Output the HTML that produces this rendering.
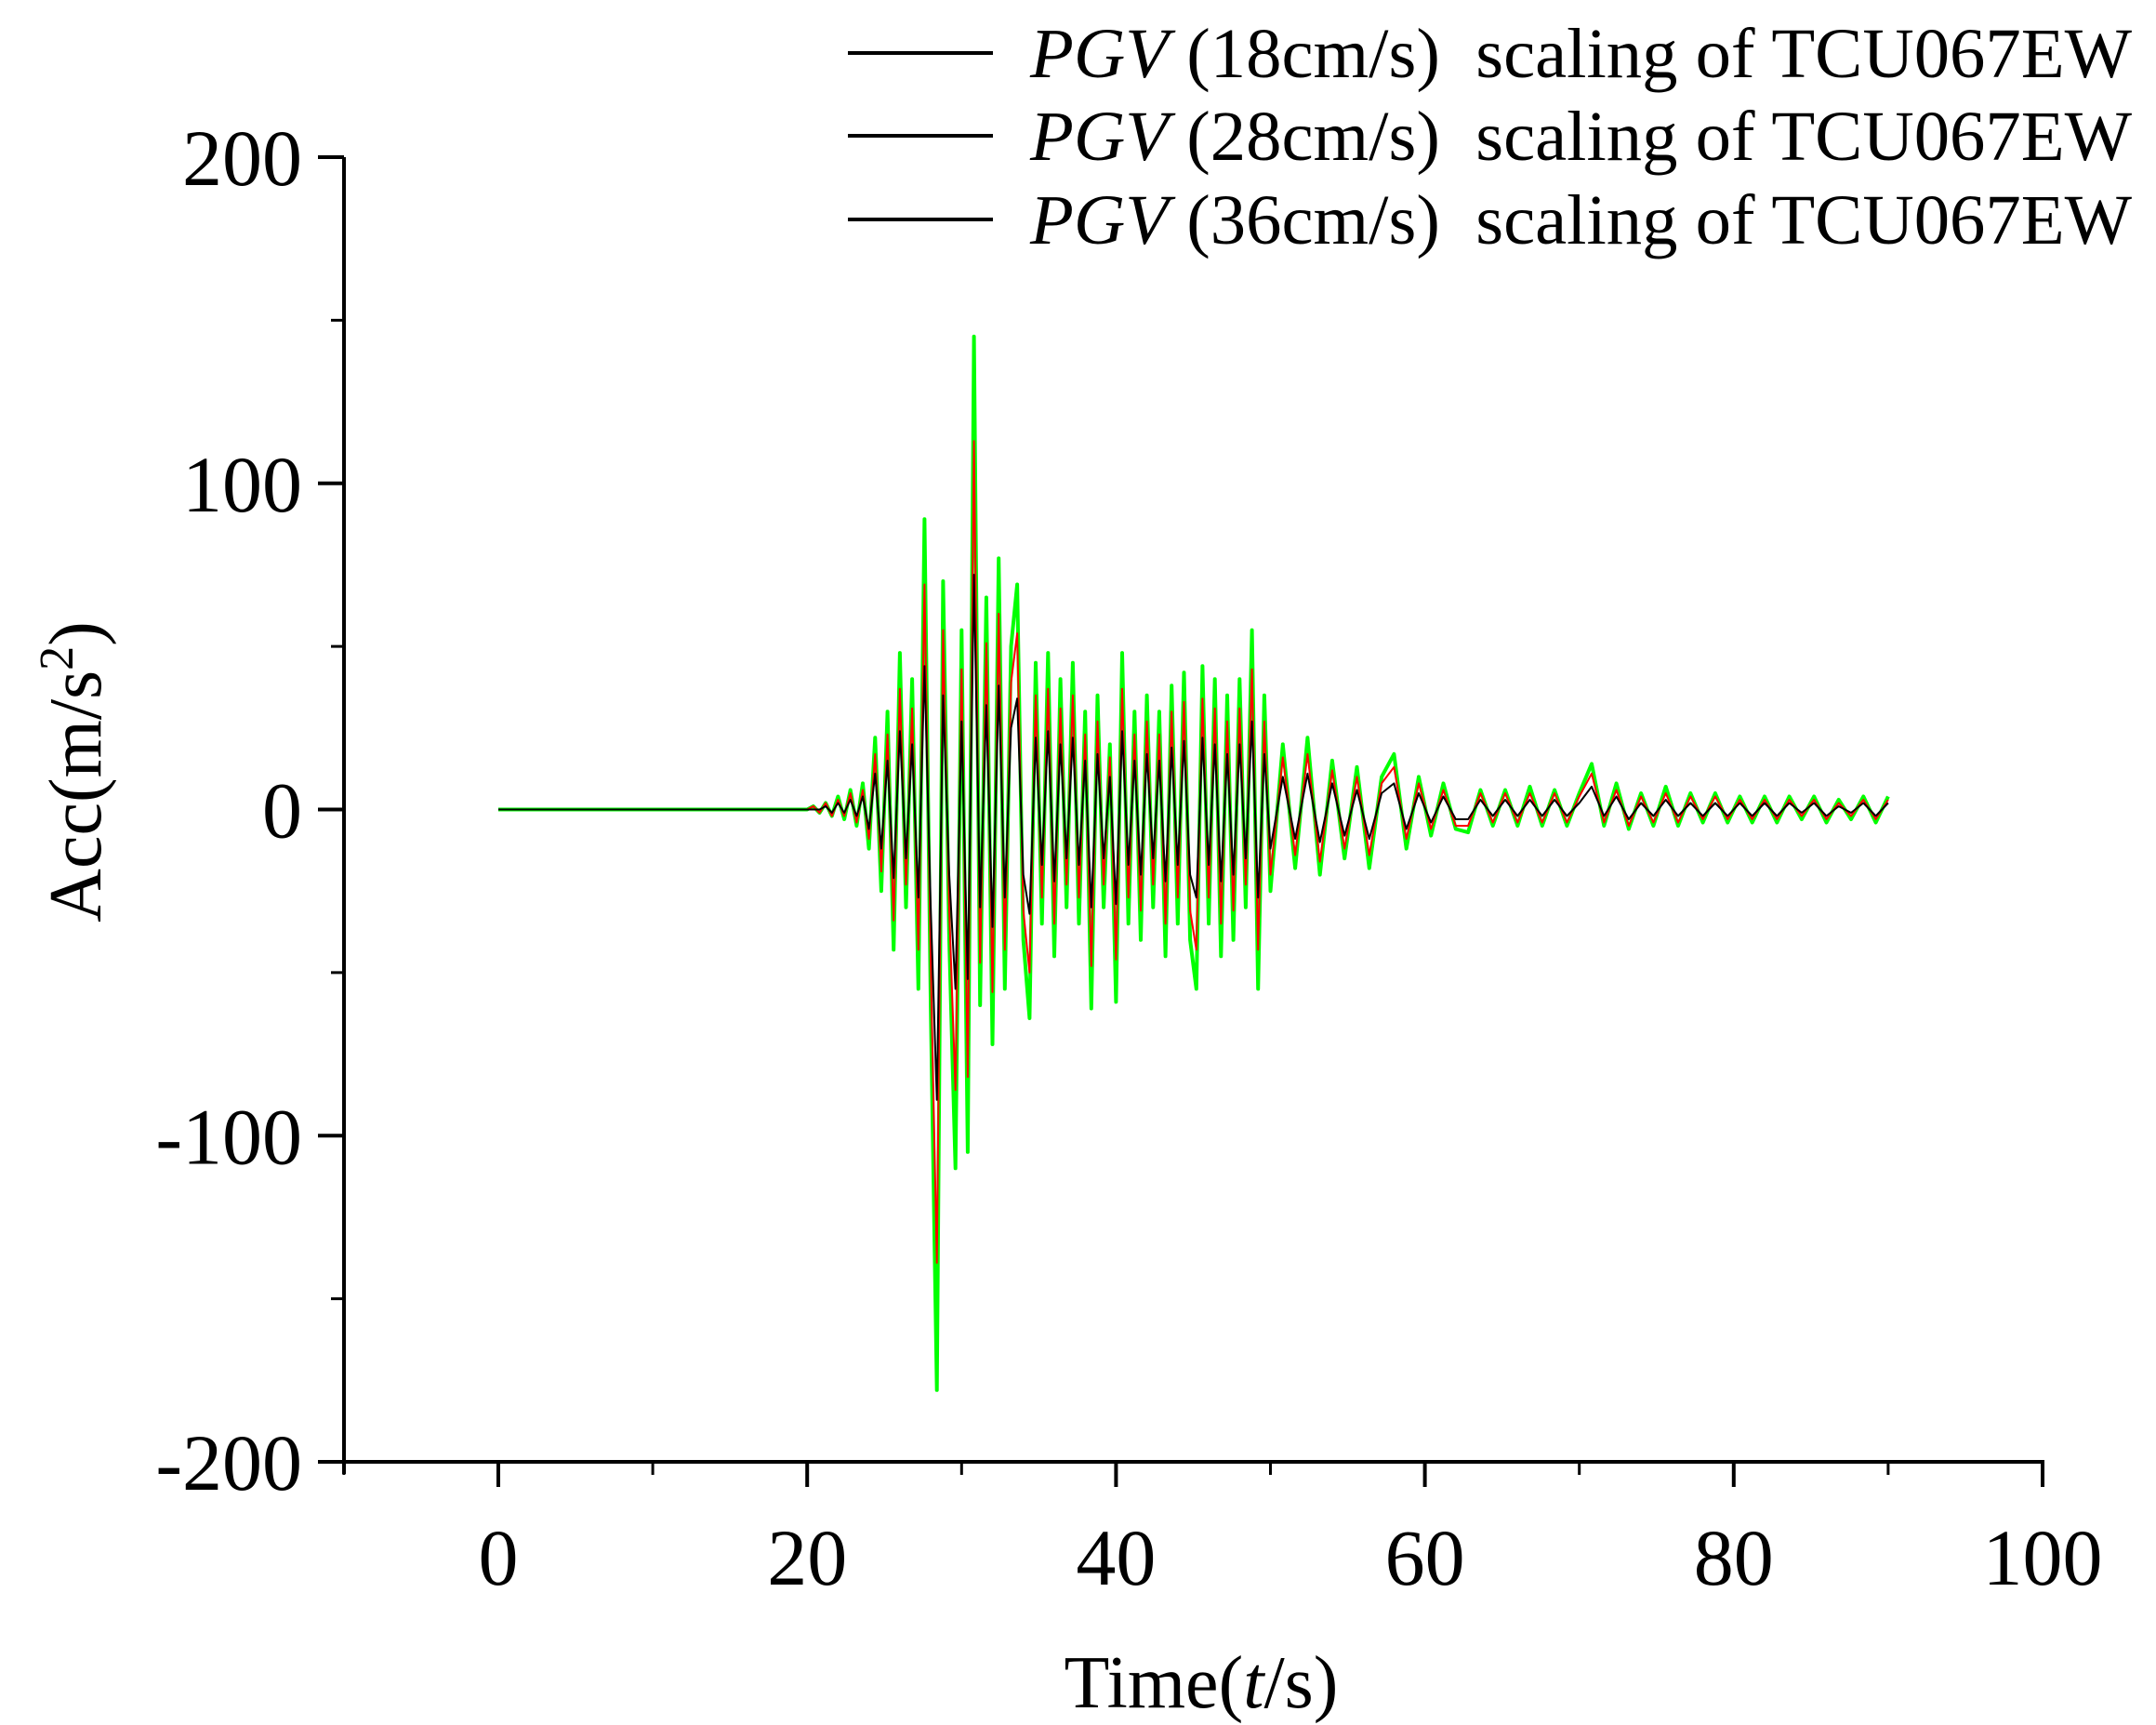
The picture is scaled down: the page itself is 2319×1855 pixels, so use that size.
<!DOCTYPE html>
<html><head><meta charset="utf-8"><style>
html,body{margin:0;padding:0;background:#fff}
svg{display:block}
text{font-family:"Liberation Serif",serif;fill:#000}
</style></head><body>
<svg id="chart" width="2319" height="1855" viewBox="0 0 2319 1855" xmlns="http://www.w3.org/2000/svg">
<g id="series"></g>
<g id="axes"></g>
<text transform="translate(108,830) rotate(-90)" text-anchor="middle" font-size="80">Acc(m/s<tspan font-size="52" dy="-30">2</tspan><tspan dy="30">)</tspan></text>
<text x="1292" y="1836" text-anchor="middle" font-size="80">Time(<tspan font-style="italic">t</tspan>/s)</text>
<g>
 <g>
  <line x1="912" y1="57" x2="1068" y2="57" stroke="#000" stroke-width="4"/>
  <text x="1108" y="83" font-size="76" textLength="1185" lengthAdjust="spacingAndGlyphs" xml:space="preserve"><tspan font-style="italic">PGV</tspan> (18cm/s)  scaling of TCU067EW</text>
 </g>
 <g>
  <line x1="912" y1="146" x2="1068" y2="146" stroke="#000" stroke-width="4"/>
  <text x="1108" y="172" font-size="76" textLength="1185" lengthAdjust="spacingAndGlyphs" xml:space="preserve"><tspan font-style="italic">PGV</tspan> (28cm/s)  scaling of TCU067EW</text>
 </g>
 <g>
  <line x1="912" y1="236" x2="1068" y2="236" stroke="#000" stroke-width="4"/>
  <text x="1108" y="262" font-size="76" textLength="1185" lengthAdjust="spacingAndGlyphs" xml:space="preserve"><tspan font-style="italic">PGV</tspan> (36cm/s)  scaling of TCU067EW</text>
 </g>
</g>
</svg>
<script>
const times = [0,20.0,20.4,20.8,21.2,21.6,22.0,22.4,22.8,23.2,23.6,24.0,24.4,24.8,25.2,25.6,26.0,26.4,26.8,27.2,27.6,28.0,28.4,28.8,29.2,29.6,30.0,30.4,30.8,31.2,31.6,32.0,32.4,32.8,33.2,33.6,34.0,34.4,34.8,35.2,35.6,36.0,36.4,36.8,37.2,37.6,38.0,38.4,38.8,39.2,39.6,40.0,40.4,40.8,41.2,41.6,42.0,42.4,42.8,43.2,43.6,44.0,44.4,44.8,45.2,45.6,46.0,46.4,46.8,47.2,47.6,48.0,48.4,48.8,49.2,49.6,50.0,
50.8,51.6,52.4,53.2,54.0,54.8,55.6,56.4,57.2,58.0,58.8,59.6,60.4,61.2,62.0,62.8,63.6,64.4,65.2,66.0,66.8,67.6,68.4,69.2,70.0,70.8,71.6,72.4,73.2,74.0,74.8,75.6,76.4,77.2,78.0,78.8,79.6,80.4,81.2,82.0,82.8,83.6,84.4,85.2,86.0,86.8,87.6,88.4,89.2,90.0];
const acc36 = [0,0,1,-1,2,-2,4,-3,6,-5,8,-12,22,-25,30,-43,48,-30,40,-55,89,-60,-178,70,-40,-110,55,-105,145,-60,65,-72,77,-55,50,69,-40,-64,45,-35,48,-45,40,-30,45,-35,30,-61,35,-30,20,-59,48,-35,30,-40,35,-30,30,-45,38,-35,42,-40,-55,44,-35,40,-45,35,-40,40,-30,55,-55,35,-25,
20,-18,22,-20,15,-15,13,-18,10,17,-12,10,-8,8,-6,-7,6,-5,6,-5,7,-5,6,-5,5,14,-5,8,-6,5,-5,7,-5,5,-4,5,-4,4,-4,4,-4,4,-3,4,-4,3,-3,4,-4,4];
const acc28 = [0,0,1,-1,2,-2,3,-2,5,-4,6,-9,17,-19,23,-34,37,-23,31,-43,69,-47,-139,55,-31,-86,43,-82,113,-47,51,-56,60,-43,39,54,-31,-50,35,-27,37,-35,31,-23,35,-27,23,-48,27,-23,16,-46,37,-27,23,-31,27,-23,23,-35,30,-27,33,-31,-43,34,-27,31,-35,27,-31,31,-23,43,-43,27,-20,
16,-14,17,-16,12,-12,10,-14,8,13,-9,8,-6,6,-5,-5,5,-4,5,-4,5,-4,5,-4,4,11,-4,6,-5,4,-4,5,-4,4,-3,4,-3,3,-3,3,-3,3,-2,3,-3,2,-2,3,-3,3];
const acc18 = [0,0,0,0,1,-1,2,-1,3,-2,4,-6,11,-12,15,-21,24,-15,20,-27,44,-30,-89,35,-20,-55,27,-52,72,-30,32,-36,38,-27,25,34,-20,-32,22,-17,24,-22,20,-15,22,-17,15,-30,17,-15,10,-29,24,-17,15,-20,17,-15,15,-22,19,-17,21,-20,-27,22,-17,20,-22,17,-20,20,-15,27,-27,17,-12,
10,-9,11,-10,8,-8,6,-9,5,8,-6,5,-4,4,-3,-3,3,-2,3,-2,3,-2,3,-2,2,7,-2,4,-3,2,-2,3,-2,2,-2,2,-2,2,-2,2,-2,2,-1,2,-2,1,-1,2,-2,2];
const xTicks = [0,20,40,60,80,100];
const xMinor = [-10,10,30,50,70,90];
const yTicks = [200,100,0,-100,-200];
const yMinor = [150,50,-50,-150];

const NS = "http://www.w3.org/2000/svg";
const X0 = 536, X1 = 2197, Y0 = 169, Y1 = 1572;
function sx(t){ return X0 + (t - 0) * (X1 - X0) / 100; }
function sy(v){ return Y0 + (200 - v) * (Y1 - Y0) / 400; }
function mk(tag, attrs, parent){ const e = document.createElementNS(NS, tag); for (const k in attrs) e.setAttribute(k, attrs[k]); parent.appendChild(e); return e; }

const sg = document.getElementById('series');
function drawSeries(vals, color, w, name){
  const n = Math.min(times.length, vals.length);
  let d = '';
  for (let i = 0; i < n; i++) d += (i ? 'L' : 'M') + sx(times[i]).toFixed(1) + ' ' + sy(vals[i]).toFixed(1);
  const p = mk('path', {d: d, fill: 'none', stroke: color, 'stroke-width': w, 'stroke-linejoin': 'round'}, sg);
  
  
}
drawSeries(acc36, '#00ff00', 4, 'series-pgv36');
drawSeries(acc28, '#ff0000', 2, 'series-pgv28');
drawSeries(acc18, '#000000', 2, 'series-pgv18');

const ax = document.getElementById('axes');
const yl = mk('line', {x1: 370, y1: Y0, x2: 370, y2: 1585, stroke: '#000', 'stroke-width': 4}, ax);


const xl = mk('line', {x1: 368, y1: Y1, x2: X1 + 2, y2: Y1, stroke: '#000', 'stroke-width': 4}, ax);



xTicks.forEach(t => {
  const l = mk('line', {x1: sx(t), y1: Y1, x2: sx(t), y2: 1599, stroke: '#000', 'stroke-width': 4}, ax);
  
  
  const tx = mk('text', {x: sx(t), y: 1704, 'text-anchor': 'middle', 'font-size': 86}, ax);
  tx.textContent = t;
  
  
});
xMinor.forEach(t => {
  const l = mk('line', {x1: sx(t), y1: Y1, x2: sx(t), y2: 1586, stroke: '#000', 'stroke-width': 3}, ax);
  
  
});
yTicks.forEach(v => {
  const l = mk('line', {x1: 342, y1: sy(v), x2: 370, y2: sy(v), stroke: '#000', 'stroke-width': 4}, ax);
  
  
  const tx = mk('text', {x: 325, y: sy(v) + 30, 'text-anchor': 'end', 'font-size': 86}, ax);
  tx.textContent = v;
  
  
});
yMinor.forEach(v => {
  const l = mk('line', {x1: 356, y1: sy(v), x2: 370, y2: sy(v), stroke: '#000', 'stroke-width': 3}, ax);
  
  
});
</script>
</body></html>
